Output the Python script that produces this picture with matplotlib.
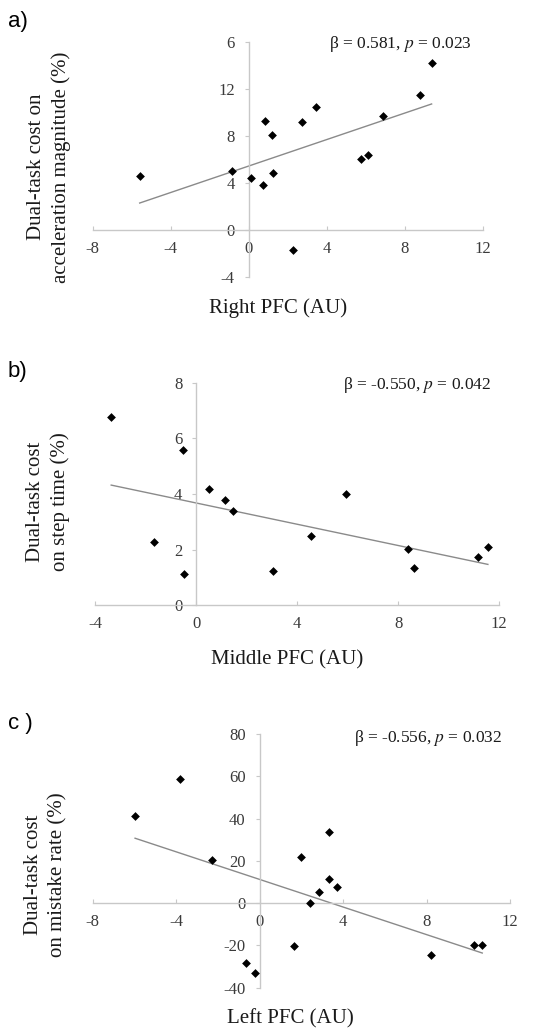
import matplotlib
matplotlib.use("Agg")
import matplotlib.pyplot as plt

plt.rcParams['mathtext.fontset'] = 'stix'
plt.rcParams['axes.unicode_minus'] = False

# ---- data ----
a_x = [-5.59, -0.85, 0.12, 0.72, 0.82, 1.20, 1.23, 2.27, 2.74, 3.45, 5.78, 6.12, 6.89, 8.80, 9.38]
a_y = [4.54, 4.96, 4.43, 3.80, 9.22, 8.06, 4.79, -1.76, 9.13, 10.47, 6.01, 6.35, 9.67, 11.43, 14.18]
a_fit_x = [-5.59, 9.38]
a_fit_y = [2.27, 10.70]

b_x = [-3.37, -1.66, -0.53, -0.50, 0.51, 1.16, 1.47, 3.05, 4.55, 5.95, 8.38, 8.65, 11.15, 11.56]
b_y = [6.77, 2.28, 5.57, 1.14, 4.18, 3.78, 3.39, 1.25, 2.49, 3.99, 2.01, 1.35, 1.74, 2.11]
b_fit_x = [-3.37, 11.56]
b_fit_y = [4.32, 1.47]

c_x = [-5.97, -3.80, -2.28, -0.67, -0.24, 1.63, 1.96, 2.40, 2.86, 3.31, 3.31, 3.72, 8.19, 10.27, 10.67]
c_y = [41.4, 58.7, 20.2, -28.2, -33.1, -20.5, 21.6, 0.0, 5.5, 33.7, 11.3, 7.7, -24.6, -19.7, -19.7]
c_fit_x = [-5.97, 10.67]
c_fit_y = [30.7, -23.6]

a_xticks = [-8, -4, 0, 4, 8, 12]
a_yticks = [-4, 0, 4, 8, 12, 16]
a_yticklabels = ['-4', '0', '4', '8', '12', '6']
b_xticks = [-4, 0, 4, 8, 12]
b_yticks = [0, 2, 4, 6, 8]
c_xticks = [-8, -4, 0, 4, 8, 12]
c_yticks = [-40, -20, 0, 20, 40, 60, 80]

W, H = 537, 1030
fig = plt.figure(figsize=(W / 100, H / 100), dpi=100)

SERIF = 'Liberation Serif'
AXCOL = '#c8c8c8'
TICKCOL = '#3a3a3a'


def px_axes(x0, x1, ytop, ybot):
    return fig.add_axes([x0 / W, 1 - ybot / H, (x1 - x0) / W, (ybot - ytop) / H])


def style(ax, xlim, ylim, xt, yt, ytl=None):
    ax.set_xlim(*xlim)
    ax.set_ylim(*ylim)
    for s in ['top', 'right']:
        ax.spines[s].set_visible(False)
    ax.spines['left'].set_position(('data', 0))
    ax.spines['bottom'].set_position(('data', 0))
    for s in ['left', 'bottom']:
        ax.spines[s].set_color(AXCOL)
        ax.spines[s].set_linewidth(1.0)
    ax.set_xticks(xt)
    ax.set_yticks(yt)
    if ytl is not None:
        ax.set_yticklabels(ytl)
    ax.tick_params(axis='x', direction='in', length=3, color=AXCOL, pad=8,
                   labelsize=12, labelcolor=TICKCOL)
    ax.tick_params(axis='y', direction='out', length=3, color=AXCOL, pad=7,
                   labelsize=12, labelcolor=TICKCOL)
    for lab in ax.get_xticklabels() + ax.get_yticklabels():
        lab.set_fontfamily(SERIF)
    ax.patch.set_alpha(0)


def ftext(x, y, s, **kw):
    fig.text(x / W, 1 - y / H, s, **kw)


MS = 20

# ---- panel a ----
ax = px_axes(92.7, 482.7, 41.7, 276.7)
style(ax, (-8, 12), (-4, 16), a_xticks, a_yticks, a_yticklabels)
ax.plot(a_fit_x, a_fit_y, color='#8a8a8a', lw=1.0, zorder=2)
ax.scatter(a_x, a_y, marker='D', s=MS, color='black', zorder=3, linewidths=0)

# ---- panel b ----
ax = px_axes(95.3, 499.0, 382.7, 605.3)
style(ax, (-4, 12), (0, 8), b_xticks, b_yticks)
ax.plot(b_fit_x, b_fit_y, color='#8a8a8a', lw=1.0, zorder=2)
ax.scatter(b_x, b_y, marker='D', s=MS, color='black', zorder=3, linewidths=0)

# ---- panel c ----
ax = px_axes(92.7, 510.0, 734.0, 987.7)
style(ax, (-8, 12), (-40, 80), c_xticks, c_yticks)
ax.plot(c_fit_x, c_fit_y, color='#8a8a8a', lw=1.0, zorder=2)
ax.scatter(c_x, c_y, marker='D', s=MS, color='black', zorder=3, linewidths=0)

# ---- texts ----
ann = dict(fontsize=12.5, family=SERIF, ha='right', va='center', color='#1a1a1a')
ftext(472, 44, r'β = 0.581, $p$ = 0.023', **ann)
ftext(491, 385, r'β = -0.550, $p$ = 0.042', **ann)
ftext(502, 738, r'β = -0.556, $p$ = 0.032', **ann)

xl = dict(fontsize=15, family=SERIF, ha='center', va='center', color='#1a1a1a')
ftext(278, 308, 'Right PFC (AU)', **xl)
ftext(287, 660, 'Middle PFC (AU)', **xl)
ftext(290, 1019, 'Left PFC (AU)', **xl)

yl = dict(fontsize=15, family=SERIF, ha='center', va='center', rotation=90,
          multialignment='center', linespacing=1.4, color='#1a1a1a')
ftext(49, 167, 'Dual-task cost on\nacceleration magnitude (%)', **yl)
ftext(48, 502, 'Dual-task cost\non step time (%)', **yl)
ftext(46, 875, 'Dual-task cost\non mistake rate (%)', **yl)

pl = dict(fontsize=16, family='Liberation Sans', ha='left', va='center', color='black')
ftext(8, 22, 'a)', **pl)
ftext(8, 372, 'b)', **pl)
ftext(8, 723, 'c )', **pl)

fig.savefig('out.png', dpi=100)
